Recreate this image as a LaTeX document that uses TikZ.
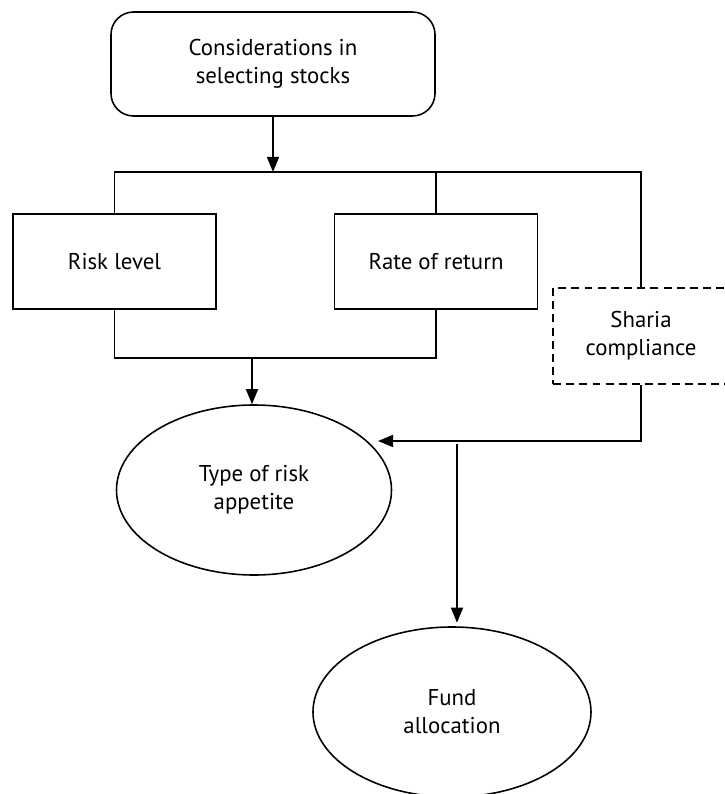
\documentclass[tikz,border=0pt]{standalone}
\usepackage{fontspec}
\setmainfont{PT Sans}
\usetikzlibrary{arrows.meta,positioning,calc,shapes.geometric}

\begin{document}
\begin{tikzpicture}[
  box/.style={draw, line width=0.9pt, align=center, minimum width=4.06cm, minimum height=1.9cm, inner sep=0pt},
  start/.style={box, rounded corners=0.45cm, minimum width=6.48cm, minimum height=2.08cm},
  optional/.style={box, dash pattern=on 4.5pt off 3pt, minimum width=3.52cm, minimum height=1.92cm},
  oval/.style={draw, ellipse, line width=0.9pt, align=center, minimum width=5.5cm, minimum height=3.4cm, inner sep=0pt},
  link/.style={line width=0.9pt},
  flow/.style={link, -{Triangle[length=0.3cm, width=0.24cm]}},
  font=\fontsize{13}{16}\selectfont
]
\useasboundingbox (0,0) rectangle (14.48,-15.88);

\node[start] (consider) at (5.46,-1.28) {Considerations in\\selecting stocks};
\node[box] (risk) at (2.29,-5.23) {Risk level};
\node[box, right=2.34cm of risk] (return) {Rate of return};
\node[optional] (sharia) at (12.82,-6.72) {Sharia\\compliance};
\node[oval] (appetite) at (5.08,-9.8) {Type of risk\\appetite};
\node[oval, minimum width=5.56cm] (fund) at (9.04,-14.24) {Fund\\allocation};

\coordinate (split) at (5.46,-3.44);
\coordinate (join) at (5.04,-7.16);
\coordinate (merge) at (7.56,-8.82);
\coordinate (out) at (9.14,-8.88);

% branches to the three criteria
\draw[flow] (consider) -- (split);
\draw[link] (risk.north) |- (split) -| (sharia.north);
\draw[link] (return.north) -- (return.north |- split);

% criteria into the outcomes
\draw[link] (risk.south) |- (join) -| (return.south);
\draw[flow] (join) -- (join |- appetite.north);
\draw[flow] (sharia.south) |- (merge);
\draw[flow, shorten >=2pt] (out) -- (out |- fund.north);

\end{tikzpicture}
\end{document}
